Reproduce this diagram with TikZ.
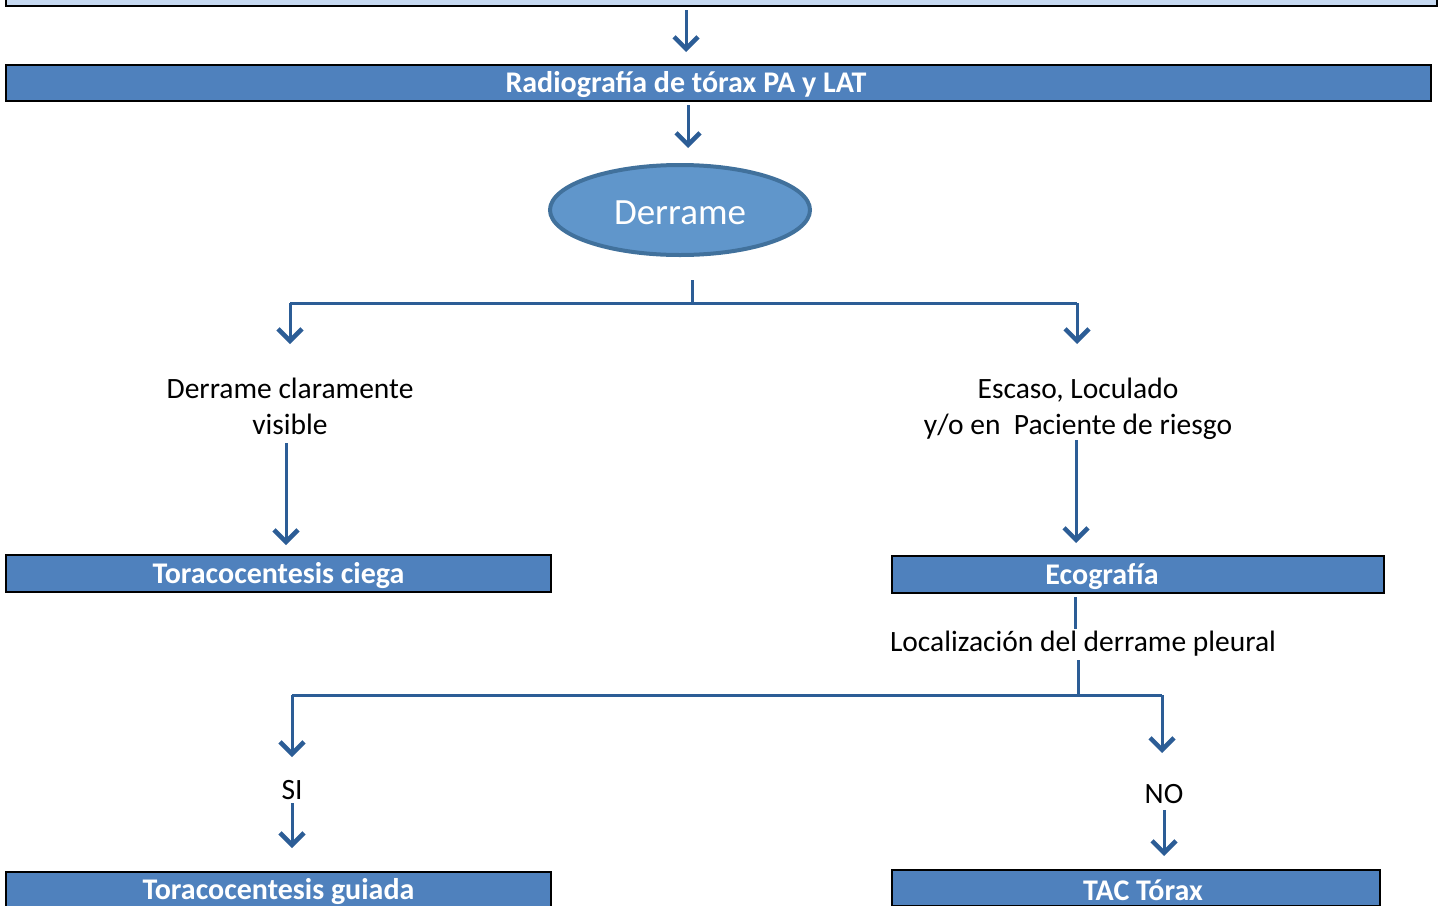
\documentclass[tikz,border=0pt]{standalone}
\usepackage{fontspec}
\setmainfont{Carlito}
\usetikzlibrary{arrows.meta,shapes.geometric}
\definecolor{boxblue}{HTML}{4F81BD}
\definecolor{lightblue}{HTML}{C6D9F1}
\definecolor{ellfill}{HTML}{6096CB}
\definecolor{elldraw}{HTML}{41719C}
\definecolor{conn}{HTML}{2C5D96}
\tikzset{
  bluebox/.style={draw=black, line width=2pt, fill=boxblue, inner sep=0pt, anchor=center},
  boxtext/.style={text=white, font=\fontsize{30}{34}\selectfont\bfseries, inner sep=0pt},
  lightbox/.style={draw=black, line width=2pt, fill=lightblue, inner sep=0pt},
  lbl/.style={text=black, font=\fontsize{29.5}{36}\selectfont, align=center, inner sep=0pt},
  wire/.style={draw=conn, line width=3pt},
  arr/.style={wire, -{Straight Barb[length=12pt,width=24pt,line width=4.5pt]}},
}
\begin{document}
\begin{tikzpicture}[x=1pt,y=-1pt]
\useasboundingbox (0,0) rectangle (1439,905);
\clip (0,0) rectangle (1439,905);
% boxes
\node[lightbox, minimum width=1431pt, minimum height=40pt] (top) at (721.5,-14) {};
\node[bluebox, minimum width=1425pt, minimum height=36pt] (rad) at (718.5,83) {};
\node[boxtext] (radt) at (686,85) {Radiografía de tórax PA y LAT};
\node[ellipse, draw=elldraw, fill=ellfill, line width=4pt, minimum width=260pt, minimum height=90pt,
      inner sep=0pt] (der) at (680,210) {};
\node[text=white, font=\fontsize{37}{40}\selectfont, inner sep=0pt] (dert) at (680,213) {Derrame};
\node[lbl] (lt) at (290,406) {Derrame claramente\\visible};
\node[lbl] (rt) at (1078,408.5) {Escaso, Loculado\\y/o en\ \ Paciente de riesgo};
\node[bluebox, minimum width=545pt, minimum height=37pt] (ciega) at (278.5,573.5) {};
\node[boxtext] (ciegat) at (278.5,575.5) {Toracocentesis ciega};
\node[bluebox, minimum width=492pt, minimum height=37pt] (eco) at (1138,574.5) {};
\node[boxtext] (ecot) at (1102,576.5) {Ecografía};
\node[lbl] (loc) at (1083,644) {Localización del derrame pleural};
\node[lbl] (si) at (292,790) {SI};
\node[lbl] (no) at (1164,794) {NO};
\node[bluebox, minimum width=545pt, minimum height=36pt] (guiada) at (278.5,890) {};
\node[boxtext] (guiadat) at (278.5,892) {Toracocentesis guiada};
\node[bluebox, minimum width=488pt, minimum height=36pt] (tac) at (1136,888) {};
\node[boxtext] (tact) at (1143,890) {TAC Tórax};
% coordinates
\coordinate (a1s) at (686,10);  \coordinate (a1e) at (686,52);
\coordinate (a2s) at (688,105); \coordinate (a2e) at (688,148);
\coordinate (st1) at (692,280); \coordinate (st2) at (692,303);
\coordinate (bl) at (290,303);  \coordinate (br) at (1077,303);
\coordinate (bl2) at (290,344); \coordinate (br2) at (1077,344);
\coordinate (l1s) at (286,443); \coordinate (l1e) at (286,545);
\coordinate (r1s) at (1076,440); \coordinate (r1e) at (1076,543);
\coordinate (e1s) at (1075,597); \coordinate (e1e) at (1075,629);
\coordinate (e2s) at (1078,660); \coordinate (e2e) at (1078,695);
\coordinate (cl) at (292,695);  \coordinate (cr) at (1162,695);
\coordinate (cl2) at (292,757); \coordinate (cr2) at (1162,753);
\coordinate (s1s) at (292,803); \coordinate (s1e) at (292,848);
\coordinate (n1s) at (1164,810); \coordinate (n1e) at (1164,856);
% connectors
\draw[arr] (a1s) -- (a1e);
\draw[arr] (a2s) -- (a2e);
\draw[wire] (st1) -- (st2);
\draw[wire] (bl) -- (br);
\draw[arr] (bl) -- (bl2);
\draw[arr] (br) -- (br2);
\draw[arr] (l1s) -- (l1e);
\draw[arr] (r1s) -- (r1e);
\draw[wire] (e1s) -- (e1e);
\draw[wire] (e2s) -- (e2e);
\draw[wire] (cl) -- (cr);
\draw[arr] (cl) -- (cl2);
\draw[arr] (cr) -- (cr2);
\draw[arr] (s1s) -- (s1e);
\draw[arr] (n1s) -- (n1e);
\end{tikzpicture}
\end{document}
